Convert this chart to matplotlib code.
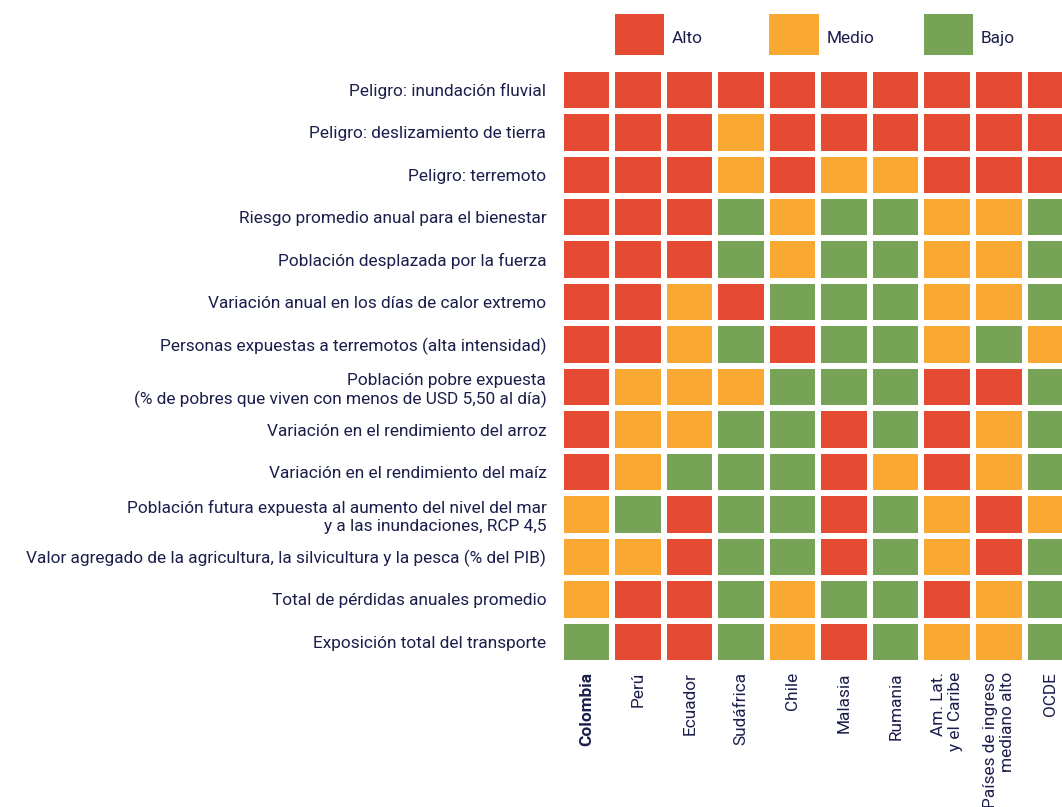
import matplotlib
matplotlib.use("Agg")
import matplotlib.pyplot as plt
import matplotlib.patches as mpatches
from matplotlib.colors import ListedColormap
import numpy as np

C_ALTO  = "#E54B33"   # rojo
C_MEDIO = "#F9A932"   # naranja
C_BAJO  = "#76A355"   # verde
C_TEXT  = "#1B1E4B"
FS = 12.4

plt.rcParams["font.family"] = ["Roboto", "DejaVu Sans"]

indicadores = [
    "Peligro: inundación fluvial",
    "Peligro: deslizamiento de tierra",
    "Peligro: terremoto",
    "Riesgo promedio anual para el bienestar",
    "Población desplazada por la fuerza",
    "Variación anual en los días de calor extremo",
    "Personas expuestas a terremotos (alta intensidad)",
    "Población pobre expuesta\n(% de pobres que viven con menos de USD 5,50 al día)",
    "Variación en el rendimiento del arroz",
    "Variación en el rendimiento del maíz",
    "Población futura expuesta al aumento del nivel del mar\ny a las inundaciones, RCP 4,5",
    "Valor agregado de la agricultura, la silvicultura y la pesca (% del PIB)",
    "Total de pérdidas anuales promedio",
    "Exposición total del transporte",
]

paises = ["Colombia", "Perú", "Ecuador", "Sudáfrica", "Chile", "Malasia",
          "Rumania", "Am. Lat.\ny el Caribe", "Países de ingreso\nmediano alto", "OCDE"]

niveles = ["Bajo", "Medio", "Alto"]

# A = alto, M = medio, B = bajo
filas = [
    "AAAAAAAAAA",
    "AAAMAAAAAA",
    "AAAMAMMAAA",
    "AAABMBBMMB",
    "AAABMBBMMB",
    "AAMABBBMMB",
    "AAMBABBMBM",
    "AMMMBBBAAB",
    "AMMBBABAMB",
    "AMBBBAMAMB",
    "MBABBABMAM",
    "MMABBABMAB",
    "MAABMBBAMB",
    "BAABMABMMB",
]
codigo = {"B": 0, "M": 1, "A": 2}
valores = np.array([[codigo[c] for c in f] for f in filas])

fig = plt.figure(figsize=(10.62, 8.07), dpi=100)
ax = fig.add_axes([0.5281, 0.1784, 0.4851, 0.7365])

cmap = ListedColormap([C_BAJO, C_MEDIO, C_ALTO])
ax.pcolormesh(valores, cmap=cmap, vmin=-0.5, vmax=2.5,
              edgecolors="white", linewidth=3.2)
ax.set_xlim(0, len(paises))
ax.set_ylim(len(indicadores), 0)

ax.set_yticks(np.arange(len(indicadores)) + 0.5)
ax.set_yticklabels(indicadores, fontsize=FS, color=C_TEXT)
ax.set_xticks(np.arange(len(paises)) + 0.5)
ax.set_xticklabels(paises, fontsize=FS, color=C_TEXT, rotation=90,
                   va="top", ha="center", multialignment="right")
ax.get_xticklabels()[0].set_fontweight("bold")
ax.tick_params(axis="y", length=0, pad=10.5)
ax.tick_params(axis="x", length=0, pad=6.5)
for s in ax.spines.values():
    s.set_visible(False)

# leyenda: cuadros sobre las columnas 1, 4 y 7
for col, nivel, color in [(1, "Alto", C_ALTO), (4, "Medio", C_MEDIO), (7, "Bajo", C_BAJO)]:
    ax.add_patch(mpatches.Rectangle((col + 0.045, -1.293), 0.96, 0.97,
                                    facecolor=color, edgecolor="none",
                                    clip_on=False))
    ax.text(col + 1.15, -0.70, nivel, fontsize=FS, color=C_TEXT,
            ha="left", va="center")

fig.savefig("out.png", dpi=100)
